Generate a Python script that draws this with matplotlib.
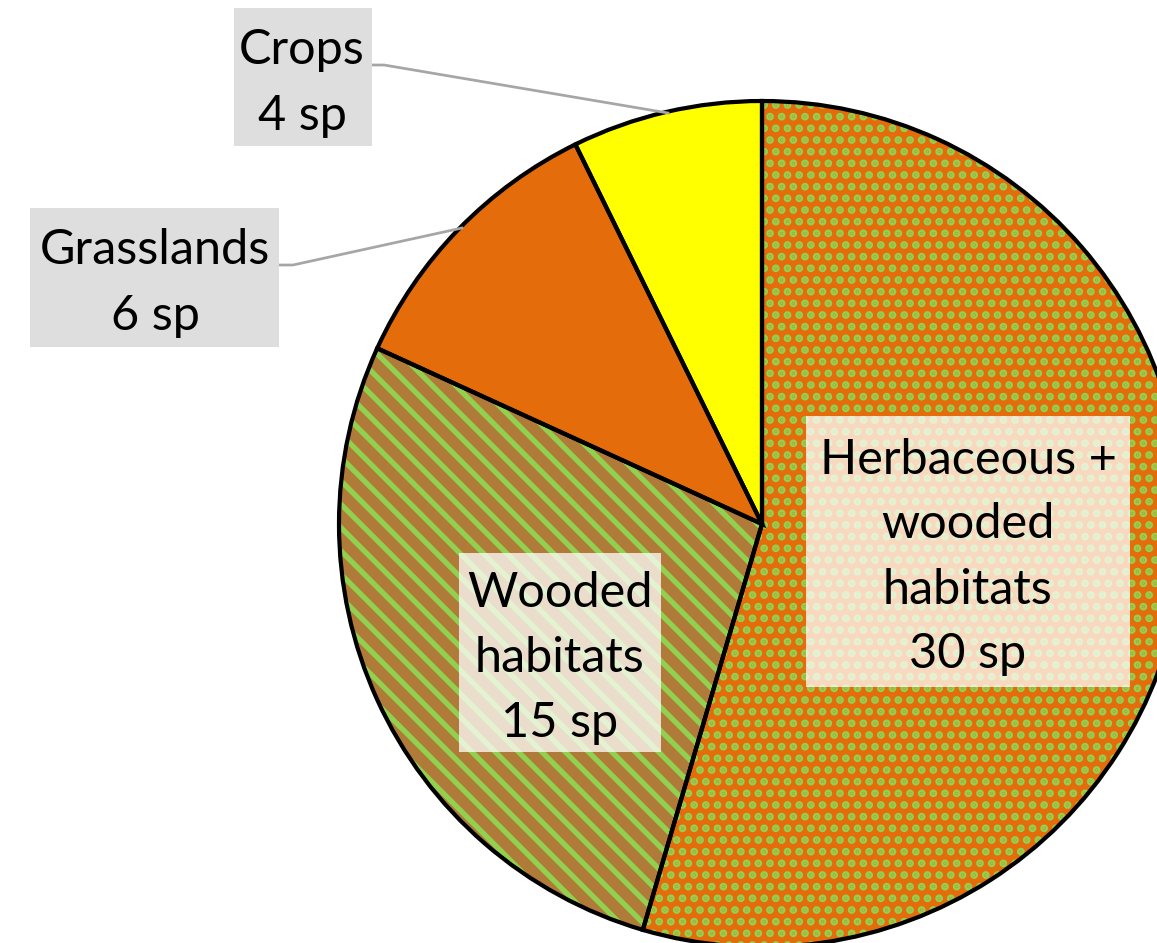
import matplotlib
matplotlib.use("Agg")
import matplotlib.pyplot as plt
from matplotlib.patches import Rectangle

# data
habitats = ["Herbaceous +\nwooded\nhabitats", "Wooded\nhabitats", "Grasslands", "Crops"]
species = [30, 15, 6, 4]
face_colors = ["#E46C0A", "#B07A38", "#E46C0A", "#FFFF00"]
hatch_colors = ["#92D050", "#92D050", "#E46C0A", "#FFFF00"]
hatches = [".", "\\", None, None]

# hatch cells are 1 inch wide, so a lower dpi gives a finer pattern in pixels
DPI = 70
plt.rcParams["font.family"] = ["Lato", "DejaVu Sans"]
plt.rcParams["hatch.linewidth"] = 5.5

fig = plt.figure(figsize=(1157 / DPI, 943 / DPI), dpi=DPI)
ax = fig.add_axes([0, 0, 1, 1])

center = (762, 419)
radius = 423

# filled + hatched wedges
wedges, _ = ax.pie(species, startangle=90, counterclock=False, center=center,
                   radius=radius, colors=face_colors,
                   wedgeprops=dict(linewidth=0))
for w, hc, h in zip(wedges, hatch_colors, hatches):
    w.set_edgecolor(hc)
    if h:
        w.set_hatch(h)

# black outlines on top
ax.pie(species, startangle=90, counterclock=False, center=center,
       radius=radius, colors=["none"] * len(species),
       wedgeprops=dict(linewidth=4.3, edgecolor="black", fill=False))

ax.set_xlim(0, 1157)
ax.set_ylim(0, 943)
ax.set_aspect("equal")
ax.axis("off")

step = 65


def label(lines, cx, cy, box, fc, alpha, size=50):
    x0, y0, x1, y1 = box
    ax.add_patch(Rectangle((x0, y0), x1 - x0, y1 - y0, facecolor=fc,
                           edgecolor="none", alpha=alpha, zorder=3))
    n = len(lines)
    for i, t in enumerate(lines):
        y = cy + (n - 1) / 2 * step - i * step
        ax.text(cx, y, t, ha="center", va="center", fontsize=size,
                color="black", zorder=4)


sp = [f"{v} sp" for v in species]

# callout labels for the small slices
label(["Crops", sp[3]], 302, 860, (234, 797, 372, 935), "#DEDEDE", 1)
label(["Grasslands", sp[2]], 155, 660, (30, 596, 279, 735), "#DEDEDE", 1)
ax.plot([372, 384, 668], [878, 878, 830], color="#A6A6A6", lw=2.8, zorder=2)
ax.plot([279, 293, 462], [678, 678, 715], color="#A6A6A6", lw=2.8, zorder=2)

# inner labels
label(habitats[0].split("\n") + [sp[0]], 968, 386, (806, 256, 1130, 527), "white", 0.75)
label(habitats[1].split("\n") + [sp[1]], 560, 285, (459, 191, 661, 390), "white", 0.75)

fig.savefig("out.png", dpi=DPI)
